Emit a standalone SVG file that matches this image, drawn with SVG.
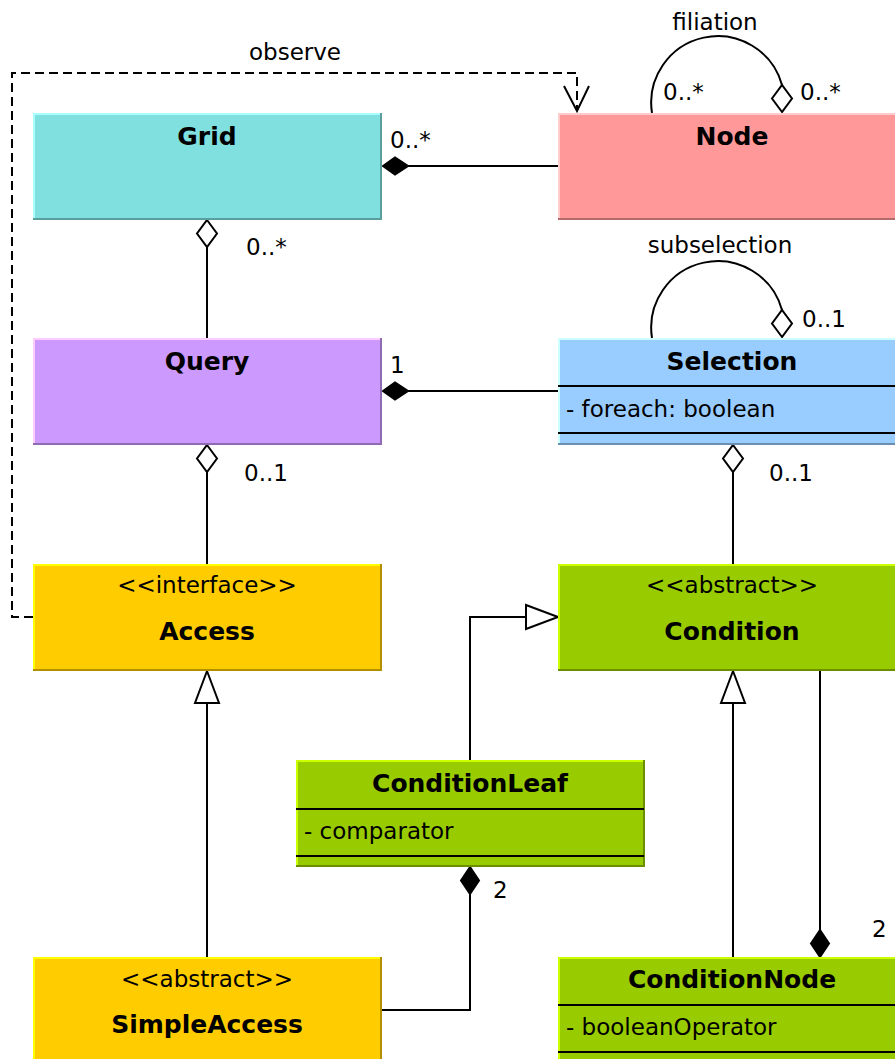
<svg xmlns="http://www.w3.org/2000/svg" width="895" height="1059" viewBox="0 0 895 1059">
<style>
text{font-family:"DejaVu Sans","Liberation Sans",sans-serif;font-size:23px;fill:#000}
.b{font-weight:bold;font-size:25px;text-anchor:middle}
.m{text-anchor:middle}
.ln{stroke:#000;stroke-width:2;fill:none}
.dash{stroke:#000;stroke-width:2;fill:none;stroke-dasharray:9,5}
.hd{stroke:#000;stroke-width:2;fill:#fff}
.fd{stroke:#000;stroke-width:2;fill:#000}
.e{stroke-width:2;fill:none}
</style>
<g id="connectors">
<path class="dash" d="M33,617 H12 V73 H577 V110"/>
<path class="ln" d="M564,86 L577,111 L589,86"/>
<path class="ln" d="M408,166 H558"/>
<polygon class="fd" points="383,166 395,157.5 408,166 395,174.5"/>
<path class="ln" d="M652,113 A66.6,66.6 0 0 1 782,85"/>
<polygon class="hd" points="782,112 772,98.5 782,85 792,98.5"/>
<path class="ln" d="M207,247 V338"/>
<polygon class="hd" points="207,220 217,233.5 207,247 197,233.5"/>
<path class="ln" d="M652,338 A66.6,66.6 0 0 1 782,310"/>
<polygon class="hd" points="782,337 772,323.5 782,310 792,323.5"/>
<path class="ln" d="M408,391 H558"/>
<polygon class="fd" points="383,391 395,382.5 408,391 395,399.5"/>
<path class="ln" d="M207,472 V564"/>
<polygon class="hd" points="207,445 217,458.5 207,472 197,458.5"/>
<path class="ln" d="M733,472 V564"/>
<polygon class="hd" points="733,445 743,458.5 733,472 723,458.5"/>
<path class="ln" d="M470,760 V617 H526"/>
<polygon class="hd" points="558,617 526,605 526,629"/>
<path class="ln" d="M207,957 V703"/>
<polygon class="hd" points="207,671 219,703 195,703"/>
<path class="ln" d="M733,957 V703"/>
<polygon class="hd" points="733,671 745,703 721,703"/>
<path class="ln" d="M820,671 V930"/>
<polygon class="fd" points="820,957 811,943.5 820,930 829,943.5"/>
<path class="ln" d="M382,1010 H470 V894"/>
<polygon class="fd" points="470,867 479,880.5 470,894 461,880.5"/>
<text x="295" y="60" class="m">observe</text>
<text x="390" y="148">0..*</text>
<text x="715" y="30" class="m">filiation</text>
<text x="663" y="100">0..*</text>
<text x="800" y="100">0..*</text>
<text x="246" y="255">0..*</text>
<text x="720" y="253" class="m">subselection</text>
<text x="802" y="327">0..1</text>
<text x="390" y="373">1</text>
<text x="244" y="481">0..1</text>
<text x="769" y="481">0..1</text>
<text x="493" y="898">2</text>
<text x="872" y="937">2</text>
</g>
<g id="Grid">
<rect x="33" y="113" width="349" height="107" fill="#80dfdf"/>
<path class="e" stroke="#aaffff" d="M34,220 V114 H382"/>
<path class="e" stroke="#5a9e9e" d="M33,219 H381 V113"/>
<text x="207" y="145" class="b">Grid</text>
</g>
<g id="Node">
<rect x="558" y="113" width="349" height="107" fill="#ff9999"/>
<path class="e" stroke="#ffcccc" d="M559,220 V114 H907"/>
<path class="e" stroke="#b36b6b" d="M558,219 H907"/>
<text x="732" y="145" class="b">Node</text>
</g>
<g id="Query">
<rect x="33" y="338" width="349" height="107" fill="#cc99ff"/>
<path class="e" stroke="#ffccff" d="M34,445 V339 H382"/>
<path class="e" stroke="#8f6bb3" d="M33,444 H381 V338"/>
<text x="207" y="370" class="b">Query</text>
</g>
<g id="Selection">
<rect x="558" y="338" width="349" height="107" fill="#99ccff"/>
<path class="e" stroke="#ccffff" d="M559,445 V339 H907"/>
<path class="e" stroke="#6b8fb3" d="M558,444 H907"/>
<path class="ln" d="M558,386 H907 M558,433 H907"/>
<text x="732" y="370" class="b">Selection</text>
<text x="566" y="417">- foreach: boolean</text>
</g>
<g id="Access">
<rect x="33" y="564" width="349" height="107" fill="#ffcc00"/>
<path class="e" stroke="#ffff00" d="M34,671 V565 H382"/>
<path class="e" stroke="#b38f00" d="M33,670 H381 V564"/>
<text x="207" y="593" class="m">&lt;&lt;interface&gt;&gt;</text>
<text x="207" y="640" class="b">Access</text>
</g>
<g id="Condition">
<rect x="558" y="564" width="349" height="107" fill="#99cc00"/>
<path class="e" stroke="#ccff00" d="M559,671 V565 H907"/>
<path class="e" stroke="#6b8f00" d="M558,670 H907"/>
<text x="732" y="593" class="m">&lt;&lt;abstract&gt;&gt;</text>
<text x="732" y="640" class="b">Condition</text>
</g>
<g id="ConditionLeaf">
<rect x="296" y="760" width="349" height="107" fill="#99cc00"/>
<path class="e" stroke="#ccff00" d="M297,867 V761 H645"/>
<path class="e" stroke="#6b8f00" d="M296,866 H644 V760"/>
<path class="ln" d="M296,809 H644 M296,856 H644"/>
<text x="470" y="792" class="b">ConditionLeaf</text>
<text x="304" y="839">- comparator</text>
</g>
<g id="SimpleAccess">
<rect x="33" y="957" width="349" height="107" fill="#ffcc00"/>
<path class="e" stroke="#ffff00" d="M34,1064 V958 H382"/>
<path class="e" stroke="#b38f00" d="M381,1064 V957"/>
<text x="207" y="987" class="m">&lt;&lt;abstract&gt;&gt;</text>
<text x="207" y="1033" class="b">SimpleAccess</text>
</g>
<g id="ConditionNode">
<rect x="558" y="957" width="349" height="107" fill="#99cc00"/>
<path class="e" stroke="#ccff00" d="M559,1064 V958 H907"/>
<path class="ln" d="M558,1005 H907 M558,1052 H907"/>
<text x="732" y="988" class="b">ConditionNode</text>
<text x="566" y="1035">- booleanOperator</text>
</g>
</svg>
